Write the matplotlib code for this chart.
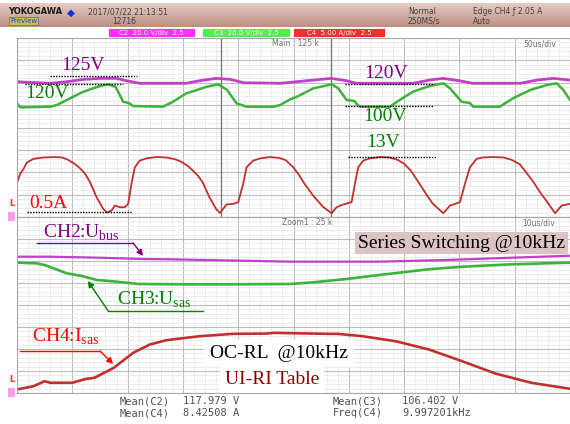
import numpy as np
import matplotlib
matplotlib.use("Agg")
import matplotlib.pyplot as plt
from matplotlib.patches import Rectangle


# main window, 50 us/div (time in us)
MAIN_T_CH2 = [-250, -220, -205, -190, -175, -160, -151, -139, -97, -85, -70, -57, -45,
              -12, 18, 34, 48, 57, 108, 123, 135, 150, 162, 205, 220, 235, 250]
MAIN_CH2 = [121.7, 120.3, 121.7, 123.8, 124.7, 124.7, 122.6, 120.3, 120.3, 122.6, 124.7, 123.8, 120.8,
            120.3, 123.2, 124.7, 122.6, 120.3, 120.3, 123.2, 124.7, 122.6, 120.3, 120.3, 123.2, 124.7, 123.2]

MAIN_T_CH3 = [-250, -247, -220, -214, -202, -190, -175, -167.5, -161, -157, -154, -149, -145,
              -118, -109, -97, -78.5, -68, -60, -51.5, -42.5, -18, -12, -3, 3, 18, 34.5, 40.5,
              48, 55, 57, 60, 87, 96, 108, 123, 135.5, 141.5, 152, 159.5, 162.5, 186.5, 198.5,
              214, 229, 238, 244, 250]
MAIN_CH3 = [102.4, 98.8, 99.4, 100.9, 106.9, 112.8, 117.9, 119.4, 117.2, 109.8, 103.8, 102.7, 100.0,
            99.4, 103.8, 111.3, 117.2, 119.4, 114.3, 102.4, 99.4, 99.4, 100.9, 106.0, 108.3, 115.8, 119.4, 115.8,
            105.4, 104.5, 102.0, 99.4, 99.4, 105.4, 112.8, 117.9, 120.3, 115.8, 103.8, 102.7, 99.4, 99.4, 106.9,
            114.3, 118.8, 120.3, 114.3, 105.4]

MAIN_T_CH4 = [-250, -247, -244, -241, -235, -226, -216, -209, -204, -198, -193, -188, -184, -178,
              -172, -168.5, -164.5, -161.5, -157, -152.5, -149.5, -146.5, -143.5, -139, -133, -124,
              -115, -107, -102, -96, -91, -86, -82, -76, -70, -66.5, -60.5, -54.5, -50, -45.5, -42.5,
              -36.5, -30, -21, -13, -7, -0.2, 5, 10, 18, 27, 34.5, 39, 45, 52.5, 55.5, 58.5, 63, 69,
              78, 87, 94, 100, 106, 114, 120, 126, 135.5, 141.5, 150.5, 155, 159.5, 165.5, 171,
              180, 190, 197, 204.5, 210, 217, 223, 229, 236.5, 242.5, 250]
MAIN_CH4 = [7.2, 9.2, 10.3, 11.7, 12.5, 12.8, 12.9, 12.8, 12.3, 11.4, 10.4, 9.0, 7.3, 3.9,
            1.3, 0.5, 0.95, 2.06, 1.68, 1.68, 2.44, 6.9, 10.6, 12.1, 12.6, 12.9,
            12.8, 12.4, 11.9, 11.0, 9.9, 8.6, 7.2, 3.9, 1.3, 0.4, 2.3, 2.44, 2.8, 6.9, 10.6,
            12.1, 12.6, 12.9, 12.7, 12.2, 10.6, 8.9, 6.9, 4.2, 1.7, 0.35, 1.7, 2.3, 2.8, 6.9, 10.6, 12.1, 12.6,
            12.9, 12.8, 12.3, 11.4, 9.9, 6.9, 4.6, 2.44, 0.35, 2.06, 2.8, 6.9, 10.6, 12.5, 12.8,
            12.9, 12.8, 12.3, 11.3, 9.6, 7.3, 5.0, 3.0, 0.35, 2.06, 2.44]

# zoom window, 10 us/div
ZOOM_T_CH2 = [-66, -60, -51, -43, -39, -16.5, -0.5, 11.5, 23.5, 34]
ZOOM_CH2 = [124.7, 124.7, 123.8, 122.6, 122.4, 120.2, 120.2, 121.7, 123.8, 125.6]

ZOOM_T_CH3 = [-66, -62.5, -61, -57, -54.5, -51.5, -48, -44, -36, -27, -16.5, -12.5, -6.5,
              -0.5, 8.5, 14.5, 23.5, 34]
ZOOM_CH3 = [119.3, 118.7, 117.2, 109.6, 107.4, 103.5, 102.0, 99.9, 99.6, 99.6, 99.9, 101.4, 104.4,
            108.1, 113.3, 115.6, 117.8, 119.3]

ZOOM_T_CH4 = [-66, -63, -61, -60, -56, -53.5, -52, -48.5, -45, -42, -39, -33, -27, -21, -19.5,
              -9.5, -8, -3.5, 2.5, 8.5, 14.5, 20.5, 27, 34]
ZOOM_CH4 = [0.3, 1.05, 2.18, 1.82, 1.82, 2.72, 2.95, 5.22, 8.63, 10.5, 11.5, 12.4, 12.94, 13.0, 13.17,
            12.94, 12.94, 12.4, 11.26, 9.38, 6.72, 3.93, 1.82, 0.46]

# scope settings
VOLT_PER_DIV = 20.0
AMP_PER_DIV = 5.0
V_OFFSET = 80.8
A_OFFSET = 19.5
MAIN_SPAN = (-250, 250)
ZOOM_SPAN = (-66, 34)

MEAS_NAMES = ["Mean(C2)", "Mean(C4)", "Mean(C3)", "Freq(C4)"]
MEAS_VALUES = ["117.979 V", "8.42508 A", "106.402 V", "9.997201kHz"]

C2_COLOR = "#c040c8"
C3_COLOR = "#3cb43c"
C4_COLOR = "#c0302e"
PURPLE = "#800080"
GREEN = "#008000"
RED = "#ff0000"

W, H = 570, 424
plt.rcParams["mathtext.fontset"] = "custom"
plt.rcParams["mathtext.rm"] = "Liberation Serif"
SERIF = ["Liberation Serif", "DejaVu Serif"]
MONO = "DejaVu Sans Mono"


def fx(x):
    return x / W


def fy(y):
    return 1 - y / H


def vdiv(vals):
    return (np.asarray(vals) - V_OFFSET) / VOLT_PER_DIV


def adiv(vals):
    return (np.asarray(vals) - A_OFFSET) / AMP_PER_DIV


def setup_grid(ax, span):
    ax.set_xlim(*span)
    ax.set_ylim(-4, 4)
    ax.set_xticks(np.linspace(span[0], span[1], 11))
    ax.set_xticks(np.linspace(span[0], span[1], 51), minor=True)
    ax.set_yticks(np.arange(-4, 5, 1))
    ax.set_yticks(np.linspace(-4, 4, 41), minor=True)
    ax.grid(which="major", color="#bcbcbc", lw=0.8)
    ax.grid(which="minor", color="#e6e6e6", lw=0.5)
    ax.tick_params(which="both", length=0, labelbottom=False, labelleft=False)
    ax.set_axisbelow(True)
    for s in ax.spines.values():
        s.set_color("#a8a8a8")
        s.set_linewidth(0.8)


fig = plt.figure(figsize=(W / 100, H / 100), dpi=100)

# header band
hdr = fig.add_axes([0, fy(27), 1, 24 / H])
g = np.linspace(0, 1, 40)[:, None, None]
top_c = np.array([0.90, 0.80, 0.77])
bot_c = np.array([0.74, 0.56, 0.51])
hdr.imshow(top_c * (1 - g) + bot_c * g, aspect="auto", extent=[0, 1, 0, 1])
hdr.axis("off")

fig.text(fx(8), fy(12), "YOKOGAWA", fontsize=6, fontweight="bold", va="center",
         family="DejaVu Sans", color="#1a1a1a")
fig.text(fx(71), fy(13), "\u25c6", fontsize=7.5, color="#1030e0", ha="center", va="center")
fig.text(fx(88), fy(12), "2017/07/22 21:13:51", fontsize=5.5, va="center", color="#404040")
fig.text(fx(112), fy(21), "12716", fontsize=5.5, va="center", color="#404040")
fig.text(fx(10), fy(21), "Preview", fontsize=5, va="center", color="#3040c0",
         bbox=dict(boxstyle="square,pad=0.1", fc="#c8c050", ec="#6070d0", lw=0.6))
fig.text(fx(408), fy(11), "Normal", fontsize=5.5, va="center", color="#404040")
fig.text(fx(408), fy(21), "250MS/s", fontsize=5.5, va="center", color="#404040")
fig.text(fx(473), fy(11), "Edge CH4 \u0192 2.05 A", fontsize=5.5, va="center", color="#404040")
fig.text(fx(473), fy(21), "Auto", fontsize=5.5, va="center", color="#404040")

# channel label boxes
for x0, x1, fc, label in [(108, 195, "#ff30ff", "C2  20.0 V/div  2.5"),
                          (202, 290, "#50f050", "C3  20.0 V/div  2.5"),
                          (293, 385, "#f03030", "C4  5.00 A/div  2.5")]:
    fig.patches.append(Rectangle((fx(x0), fy(37)), (x1 - x0) / W, 9 / H,
                                 transform=fig.transFigure, fc=fc, ec="white", lw=0.6))
    fig.text(fx((x0 + x1) / 2), fy(32.5), label, fontsize=5, color="#fff0ff",
             ha="center", va="center")

# main window
ax = fig.add_axes([fx(17), fy(217), 553 / W, 179 / H])
setup_grid(ax, MAIN_SPAN)
for t in ZOOM_SPAN:
    ax.axvline(t, color="#7a7a7a", lw=1.0)
ax.plot(MAIN_T_CH2, vdiv(MAIN_CH2), color=C2_COLOR, lw=2.0)
ax.plot(MAIN_T_CH3, vdiv(MAIN_CH3), color=C3_COLOR, lw=1.8)
ax.plot(MAIN_T_CH4, adiv(MAIN_CH4), color=C4_COLOR, lw=1.3)

dots = dict(color="black", lw=1.0, ls=(0, (1, 1)))
for (t0, t1, y) in [(-220, -141.5, 2.30), (-243, -154, 1.94), (-241, -146, -3.77),
                    (46.5, 127, 1.94), (46.5, 127, 0.96), (49, 129, -1.32)]:
    ax.plot([t0, t1], [y, y], **dots)
for (t, y, s, c) in [(-190, 2.77, "125V", PURPLE), (-223, 1.52, "120V", GREEN),
                     (-222, -3.39, "0.5A", RED), (83.5, 2.41, "120V", PURPLE),
                     (82.5, 0.47, "100V", GREEN), (81, -0.69, "13V", GREEN)]:
    ax.text(t, y, s, color=c, fontsize=14, family=SERIF, ha="center", va="center")

# zoom window
az = fig.add_axes([fx(17), fy(393), 553 / W, 176 / H])
setup_grid(az, ZOOM_SPAN)
az.plot(ZOOM_T_CH2, vdiv(ZOOM_CH2), color=C2_COLOR, lw=1.6)
az.plot(ZOOM_T_CH3, vdiv(ZOOM_CH3), color=C3_COLOR, lw=1.9)
az.plot(ZOOM_T_CH4, adiv(ZOOM_CH4), color=C4_COLOR, lw=1.9)

labels = [(-61.3, 3.05, r"CH2:U$_{\mathrm{bus}}$", PURPLE, (-62.4, -45, 2.82), (-43.2, 2.23)),
          (-47.9, 0.0, r"CH3:U$_{\mathrm{sas}}$", GREEN, (-32.4, -49.5, -0.27), (-53.2, 1.09)),
          (-63.3, -1.68, r"CH4:I$_{\mathrm{sas}}$", RED, (-65.5, -51, -2.09), (-48.6, -2.68))]
for (t, y, s, c, (u0, u1, uy), tip) in labels:
    az.text(t, y, s, color=c, fontsize=14, family=SERIF, ha="left", va="baseline")
    az.plot([u0, u1], [uy, uy], color=c, lw=1.0)
    az.annotate("", xy=tip, xytext=(u1, uy),
                arrowprops=dict(arrowstyle="-|>", color=c, lw=1.0, mutation_scale=9,
                                shrinkA=0, shrinkB=0))

az.text(0.804, 0.852, "Series Switching @10kHz", transform=az.transAxes, fontsize=14,
        family=SERIF, ha="center", va="center",
        bbox=dict(boxstyle="square,pad=0.15", fc="#dcc4c4", ec="none"))
az.text(0.474, 0.227, "OC-RL  @10kHz", transform=az.transAxes, fontsize=14,
        family=SERIF, ha="center", va="center",
        bbox=dict(boxstyle="square,pad=0.3", fc="white", ec="none"))
az.text(0.461, 0.074, "UI-RI Table", transform=az.transAxes, fontsize=14, color="#8b0000",
        family=SERIF, ha="center", va="center",
        bbox=dict(boxstyle="square,pad=0.25", fc="white", ec="none"))

# window captions
small = dict(fontsize=5.5, color="#707070", va="center")
fig.text(fx(272), fy(44), "Main : 125 k", **small)
fig.text(fx(523), fy(44), "50us/div", **small)
fig.text(fx(282), fy(222), "Zoom1 : 25 k", **small)
fig.text(fx(522), fy(223), "10us/div", **small)

# level markers on the left
for y_l, y_g in [(204, 212), (380, 388)]:
    fig.text(fx(11.5), fy(y_l), "L", fontsize=6, color="#e03030", fontweight="bold",
             ha="center", va="center")
    fig.patches.append(Rectangle((fx(8), fy(y_g + 9)), 7 / W, 9 / H,
                                 transform=fig.transFigure, fc="#ff9cf0", ec="none"))

# measurement readout
meas_pos = [(170, 183, 401), (170, 183, 413), (383, 402, 401), (383, 402, 413)]
for (xr, xv, y), name, val in zip(meas_pos, MEAS_NAMES, MEAS_VALUES):
    fig.text(fx(xr), fy(y), name, fontsize=7.5, family=MONO, color="#505050",
             ha="right", va="center")
    fig.text(fx(xv), fy(y), val, fontsize=7.5, family=MONO, color="#505050",
             ha="left", va="center")

fig.savefig("out.png", dpi=100)
